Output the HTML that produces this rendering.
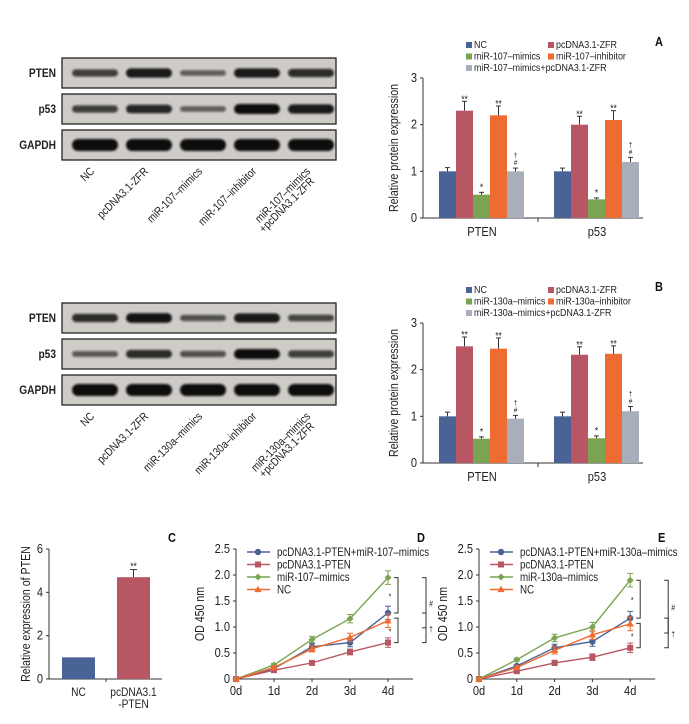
<!DOCTYPE html>
<html><head><meta charset="utf-8"><style>
body{margin:0;background:#fff}
svg{display:block;font-family:"Liberation Sans",sans-serif}
</style></head><body>
<svg id="fig" width="689" height="724" viewBox="0 0 689 724" xmlns="http://www.w3.org/2000/svg">
<defs>
<filter id="blur" x="-20%" y="-50%" width="140%" height="200%"><feGaussianBlur stdDeviation="1.1"/></filter>
</defs>
<g id="root"></g>
</svg>
<script>
// ---- data ----
const blotLanes = [0,1,2,3,4];
const blotARows = ["PTEN","p53","GAPDH"];
const blotAIntensity = [[0.6,0.9,0.35,0.9,0.75],[0.6,0.8,0.35,1.0,0.9],[1,1,1,1,1]];
const blotBIntensity = [[0.75,0.95,0.45,0.9,0.55],[0.4,0.75,0.45,1.0,0.6],[1,1,1,1,1]];
const blotALabels = [["NC"],["pcDNA3.1-ZFR"],["miR-107–mimics"],["miR-107–inhibitor"],["miR-107–mimics","+pcDNA3.1-ZFR"]];
const blotBLabels = [["NC"],["pcDNA3.1-ZFR"],["miR-130a–mimics"],["miR-130a–inhibitor"],["miR-130a–mimics","+pcDNA3.1-ZFR"]];

const barGroups = ["PTEN","p53"];
const seriesColors = ["#4a6396","#b95664","#7aa452","#ee6b31","#a8afba"];
const aNames = ["NC","pcDNA3.1-ZFR","miR-107–mimics","miR-107–inhibitor","miR-107–mimics+pcDNA3.1-ZFR"];
const aPTEN = [1.0,2.3,0.5,2.2,1.0];
const aP53 = [1.0,2.0,0.4,2.1,1.2];
const aPTENErr = [0.08,0.2,0.05,0.2,0.07];
const aP53Err = [0.07,0.18,0.03,0.2,0.1];
const bNames = ["NC","pcDNA3.1-ZFR","miR-130a–mimics","miR-130a–inhibitor","miR-130a–mimics+pcDNA3.1-ZFR"];
const bPTEN = [1.0,2.5,0.52,2.45,0.95];
const bP53 = [1.0,2.32,0.53,2.34,1.11];
const bPTENErr = [0.09,0.2,0.04,0.23,0.07];
const bP53Err = [0.09,0.17,0.05,0.17,0.1];
const barMarks = ["","**","*","**","†#"];
const barTicks = [0,1,2,3];

const cCats = ["NC","pcDNA3.1|-PTEN"];
const cVals = [1.0,4.7];
const cErr = [0,0.35];
const cTicks = [0,2,4,6];

const days = ["0d","1d","2d","3d","4d"];
const odTicks = [0,0.5,1.0,1.5,2.0,2.5];
const lineColors = ["#4a6396","#b95664","#7aa452","#ee6b31"];
const lineMarkers = ["circle","square","diamond","triangle"];
const dNames = ["pcDNA3.1-PTEN+miR-107–mimics","pcDNA3.1-PTEN","miR-107–mimics","NC"];
const dBlue = [0,0.2,0.62,0.7,1.27];
const dRed = [0,0.17,0.31,0.52,0.7];
const dGreen = [0,0.27,0.76,1.16,1.95];
const dOrange = [0,0.22,0.58,0.8,1.12];
const dErr = [0,0.03,0.06,0.08,0.13];
const eNames = ["pcDNA3.1-PTEN+miR-130a–mimics","pcDNA3.1-PTEN","miR-130a–mimics","NC"];
const eBlue = [0,0.25,0.6,0.72,1.17];
const eRed = [0,0.15,0.31,0.42,0.6];
const eGreen = [0,0.37,0.79,1.0,1.9];
const eOrange = [0,0.22,0.55,0.85,1.06];
const eErr = [0,0.03,0.07,0.09,0.13];

// ---- helpers ----
const NS="http://www.w3.org/2000/svg";
const SX=' scale(0.85,1)';
const root=document.getElementById('root');
function mk(tag,attrs,parent,txt){const e=document.createElementNS(NS,tag);for(const k in attrs)e.setAttribute(k,attrs[k]);if(txt!==undefined)e.textContent=txt;(parent||root).appendChild(e);return e;}
function grp(name,parent){const g=mk('g',{},parent);return g;}
function txt(s,x,y,size,anchor,parent,name,extra){const t=mk('text',Object.assign({x:0,y:0,'font-size':size,'text-anchor':anchor||'start',fill:'#222',transform:'translate('+x+','+y+')'+SX},extra||{}),parent,s);return t;}
function rtxt(s,x,y,size,anchor,parent,name){const t=txt(s,0,0,size,anchor,parent,name);t.setAttribute('transform','translate('+x+','+y+') rotate(-'+(arguments[7]||90)+')'+SX);return t;}

// ---- blots ----
function blot(name,top,intens,labels){
  const g=grp(name);
  const rowY=[top,top+36,top+72];
  blotARows.forEach((r,ri)=>{
    const y=rowY[ri];
    const box=mk('rect',{x:62,y:y,width:274,height:30,fill:'#cfccc8',stroke:'#222','stroke-width':1.3},g);
    
    
    txt(r,56,y+19,12,'end',g,'blot-row-label',{'font-weight':'bold'});
    blotLanes.forEach(li=>{
      const v=intens[ri][li];
      const cx=95+li*54, h=ri==2?12:3+v*7;
      const b=mk('rect',{x:cx-23,y:y+15-h/2,width:46,height:h,rx:h/2,fill:'#0c0c0c',opacity:0.35+0.65*v,filter:'url(#blur)'},g);
      
      
    });
  });
  labels.forEach((ls,li)=>{
    const ex=95+li*54, ey=top+114;
    ls.forEach((l,k)=>{rtxt(l,ex+k*4,ey+k*10,11.5,'end',g,'lane-label',45);});
  });
}
blot('western-blot-a',58,blotAIntensity,blotALabels);
blot('western-blot-b',303,blotBIntensity,blotBLabels);

// ---- bar charts ----
function barChart(name,letter,top,names,v1,v2,e1,e2){
  const g=grp(name);
  const x0=423,y0=top+140,yh=140/3;
  const ys=v=>y0-v*yh;
  txt(letter,655,top-32,13,'start',g,'panel-label',{'font-weight':'bold',fill:'#111'});
  names.forEach((n,i)=>{
    const col=i%2,row=Math.floor(i/2);
    const lx=col?548:466, ly=top-30+row*11.5;
    const s=mk('rect',{x:lx,y:ly-6,width:6,height:6,fill:seriesColors[i]},g);
    
    
    txt(n,lx+8,ly,10.5,'start',g,'legend-entry');
  });
  mk('line',{x1:x0,y1:ys(3),x2:x0,y2:y0,stroke:'#333'},g);
  mk('line',{x1:x0,y1:y0,x2:643,y2:y0,stroke:'#333'},g);
  mk('line',{x1:538,y1:y0,x2:538,y2:y0+4,stroke:'#333'},g);
  barTicks.forEach(t=>{mk('line',{x1:x0-3,y1:ys(t),x2:x0,y2:ys(t),stroke:'#333'},g);txt(String(t),x0-6,ys(t)+4,13,'end',g,'y-tick-label');});
  rtxt('Relative protein expression',x0-25,y0-70,12.5,'middle',g,'y-axis-title');
  [v1,v2].forEach((vals,gi)=>{
    const errs=gi?e2:e1;
    const gx=439+gi*115;
    txt(barGroups[gi],gx+43,y0+18,13,'middle',g,'x-tick-label');
    vals.forEach((v,i)=>{
      const bx=gx+i*17;
      const r=mk('rect',{x:bx,y:ys(v),width:17,height:y0-ys(v),fill:seriesColors[i]},g);
      
      
      const et=ys(v+errs[i]);
      mk('line',{x1:bx+8.5,y1:ys(v),x2:bx+8.5,y2:et,stroke:'#333'},g);
      mk('line',{x1:bx+6,y1:et,x2:bx+11,y2:et,stroke:'#333'},g);
      if(barMarks[i]){
        if(barMarks[i]=='†#'){txt('#',bx+8.5,et-3,7.5,'middle',g,'sig-mark');txt('†',bx+8.5,et-10,7.5,'middle',g,'sig-mark');}
        else txt(barMarks[i],bx+8.5,et-2+(i==2?0:3),10,'middle',g,'sig-mark');
      }
    });
  });
}
barChart('bar-chart-a','A',78,aNames,aPTEN,aP53,aPTENErr,aP53Err);
barChart('bar-chart-b','B',323,bNames,bPTEN,bP53,bPTENErr,bP53Err);

// ---- panel C ----
(function(){
  const g=grp('bar-chart-c');
  const x0=49,y0=679,yh=130/6,ys=v=>y0-v*yh;
  txt('C',168,542,13,'start',g,'panel-label',{'font-weight':'bold',fill:'#111'});
  mk('line',{x1:x0,y1:ys(6),x2:x0,y2:y0,stroke:'#333'},g);
  mk('line',{x1:x0,y1:y0,x2:162,y2:y0,stroke:'#333'},g);
  mk('line',{x1:106,y1:y0,x2:106,y2:y0+3,stroke:'#333'},g);
  cTicks.forEach(t=>{mk('line',{x1:x0-3,y1:ys(t),x2:x0,y2:ys(t),stroke:'#333'},g);txt(String(t),x0-6,ys(t)+4,13,'end',g,'y-tick-label');});
  rtxt('Relative expression of PTEN',30,614,12.5,'middle',g,'y-axis-title');
  cVals.forEach((v,i)=>{
    const bx=62+i*55;
    const r=mk('rect',{x:bx,y:ys(v),width:33,height:y0-ys(v),fill:seriesColors[i]},g);
    
    
    cCats[i].split('|').forEach((s,k)=>txt(s,bx+16.5,y0+17+k*12,12,'middle',g,'x-tick-label'));
    if(cErr[i]){const et=ys(v+cErr[i]);mk('line',{x1:bx+16.5,y1:ys(v),x2:bx+16.5,y2:et,stroke:'#333'},g);mk('line',{x1:bx+13,y1:et,x2:bx+20,y2:et,stroke:'#333'},g);txt('**',bx+16.5,et,10,'middle',g,'sig-mark');}
  });
})();

// ---- line charts ----
function marker(type,x,y,c,g){
  let e;
  if(type=='circle')e=mk('circle',{cx:x,cy:y,r:3.2,fill:c},g);
  else if(type=='square')e=mk('rect',{x:x-3,y:y-3,width:6,height:6,fill:c},g);
  else if(type=='diamond')e=mk('polygon',{points:[x,y-3.5,x+3.5,y,x,y+3.5,x-3.5,y].join(','),fill:c},g);
  else e=mk('polygon',{points:[x,y-3.8,x+3.6,y+2.6,x-3.6,y+2.6].join(','),fill:c},g);
  
  
}
function lineChart(name,letter,x0,dx,names,series,err,br1,br2,lx){
  const g=grp(name);
  const y0=679,yh=130/2.5,ys=v=>y0-v*yh,xs=i=>x0+i*dx;
  txt(letter,lx,542,13,'start',g,'panel-label',{'font-weight':'bold',fill:'#111'});
  mk('line',{x1:x0,y1:ys(2.5),x2:x0,y2:y0,stroke:'#333'},g);
  mk('line',{x1:x0,y1:y0,x2:xs(4)+25,y2:y0,stroke:'#333'},g);
  odTicks.forEach(t=>{mk('line',{x1:x0-3,y1:ys(t),x2:x0,y2:ys(t),stroke:'#333'},g);txt(t==0?'0':t.toFixed(1),x0-6,ys(t)+4,13,'end',g,'y-tick-label');});
  days.forEach((d,i)=>{mk('line',{x1:xs(i),y1:y0,x2:xs(i),y2:y0+3,stroke:'#333'},g);txt(d,xs(i),y0+16,13,'middle',g,'x-tick-label');});
  rtxt('OD 450 nm',x0-32,614,12.5,'middle',g,'y-axis-title');
  series.forEach((vals,si)=>{
    const c=lineColors[si];
    const p=mk('polyline',{points:vals.map((v,i)=>xs(i)+','+ys(v)).join(' '),fill:'none',stroke:c,'stroke-width':1.4},g);
    
    
    vals.forEach((v,i)=>{
      if(err[i]){const e=err[i]*(si==1?0.7:1);mk('line',{x1:xs(i),y1:ys(v-e),x2:xs(i),y2:ys(v+e),stroke:c},g);mk('line',{x1:xs(i)-3,y1:ys(v+e),x2:xs(i)+3,y2:ys(v+e),stroke:c},g);mk('line',{x1:xs(i)-3,y1:ys(v-e),x2:xs(i)+3,y2:ys(v-e),stroke:c},g);}
      marker(lineMarkers[si],xs(i),ys(v),c,g);
    });
    const ly=552+si*12.5;
    mk('line',{x1:x0+11,y1:ly,x2:x0+34,y2:ly,stroke:c,'stroke-width':1.4},g);
    marker(lineMarkers[si],x0+22,ly,c,g);
    txt(names[si],x0+41,ly+4,11.5,'start',g,'legend-entry');
  });
  const bx=xs(4)+br1;
  const a=series[2][4],b=series[0][4],c2=series[1][4];
  [[a,b,bx,'*'],[b-0.1,c2,bx,'*'],[a,(b+c2)/2,bx+br2,'#'],[b,c2,bx+br2,'†']].forEach((q,k)=>{
    const x=q[2],y1=ys(q[0]),y2=ys(q[1]);
    mk('path',{d:'M'+(x-4)+','+y1+' H'+x+' V'+y2+' H'+(x-4),fill:'none',stroke:'#333'},g);
    txt(q[3],x+(k<2?-8:5),(y1+y2)/2+4,8,'middle',g,'sig-mark');
  });
}
lineChart('line-chart-d','D',236,38,dNames,[dBlue,dRed,dGreen,dOrange],dErr,10,28,417);
lineChart('line-chart-e','E',479,37.8,eNames,[eBlue,eRed,eGreen,eOrange],eErr,10,28,658);
</script>
</body></html>
